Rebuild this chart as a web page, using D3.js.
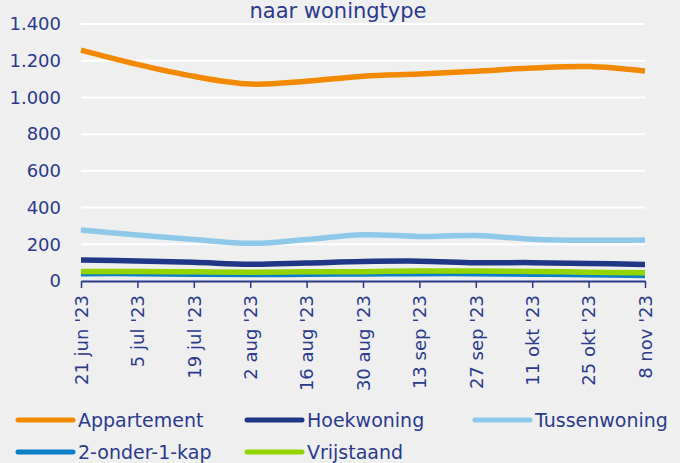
<!DOCTYPE html>
<html lang="nl">
<head>
  <meta charset="UTF-8">
  <title>naar woningtype</title>
  <script src="https://d3js.org/d3.v7.min.js"></script>
  <style>
    body {
      margin: 0;
      background: #efefef;
      font-family: "DejaVu Sans", sans-serif;
    }
    svg { display: block; }
  </style>
</head>
<body>
  <div id="chart"></div>

  <script>
    // data (biweekly points)
    const dates = ["21 jun '23", "5 jul '23", "19 jul '23", "2 aug '23", "16 aug '23", "30 aug '23",
                   "13 sep '23", "27 sep '23", "11 okt '23", "25 okt '23", "8 nov '23"];
    const appartement  = [1258, 1180, 1115, 1073, 1088, 1116, 1128, 1143, 1160, 1168, 1144];
    const hoekwoning   = [114, 109, 102, 91, 98, 106, 108, 100, 100, 96, 90];
    const tussenwoning = [278, 250, 226, 205, 226, 252, 243, 248, 228, 222, 224];
    const onderKap     = [40, 40, 37, 35, 37, 38, 40, 40, 37, 34, 30];
    const vrijstaand   = [52, 52, 50, 48, 50, 51, 54, 54, 52, 48, 45];
    const yTicks = [0, 200, 400, 600, 800, 1000, 1200, 1400];

    const series = [
      {name: "Appartement",   values: appartement,  color: "#f28a00"},
      {name: "Hoekwoning",    values: hoekwoning,   color: "#1f3784"},
      {name: "Tussenwoning",  values: tussenwoning, color: "#8fc9ea"},
      {name: "2-onder-1-kap", values: onderKap,     color: "#0b7fc7"},
      {name: "Vrijstaand",    values: vrijstaand,   color: "#93d500"}
    ];

    const textColor = "#2b3a8c";
    const W = 680, H = 463;
    const margin = {top: 24, right: 35, bottom: 182, left: 81},
          width = W - margin.left - margin.right,
          height = H - margin.top - margin.bottom;

    const nl = d3.formatLocale({decimal: ",", thousands: ".", grouping: [3], currency: ["€", ""]});
    const fmt = nl.format(",");

    const root = d3.select("#chart")
                   .append("svg")
                   .attr("width", W)
                   .attr("height", H);

    root.append("rect").attr("width", W).attr("height", H).attr("fill", "#efefef");

    const svg = root.append("g")
                    .attr("transform", `translate(${margin.left},${margin.top})`);

    const x = d3.scalePoint()
                .domain(dates)
                .range([0, width]);

    const y = d3.scaleLinear()
                .domain([0, 1400])
                .range([height, 0]);

    // title
    root.append("text")
        .attr("x", 338)
        .attr("y", 18)
        .attr("text-anchor", "middle")
        .style("font-size", "21px")
        .style("fill", textColor)
        .text("naar woningtype");

    // gridlines
    svg.append("g")
       .selectAll("line")
       .data(yTicks.filter(d => d > 0))
       .enter()
       .append("line")
       .attr("x1", 0)
       .attr("x2", width)
       .attr("y1", d => y(d))
       .attr("y2", d => y(d))
       .attr("stroke", "#ffffff")
       .attr("stroke-width", 2);

    // y axis labels
    svg.append("g")
       .call(d3.axisLeft(y).tickValues(yTicks).tickFormat(fmt).tickSize(0).tickPadding(20))
       .call(g => g.select(".domain").remove())
       .selectAll("text")
       .style("font-family", "DejaVu Sans, sans-serif")
       .style("font-size", "18px")
       .style("fill", textColor);

    // lines
    const line = d3.line()
                   .x((d, i) => x(dates[i]))
                   .y(d => y(d))
                   .curve(d3.curveCatmullRom.alpha(0.5));

    svg.selectAll(".serie")
       .data(series)
       .enter()
       .append("path")
       .attr("class", "serie")
       .attr("d", d => line(d.values))
       .attr("fill", "none")
       .attr("stroke", d => d.color)
       .attr("stroke-width", 5.5)
       .attr("stroke-linejoin", "round");

    // x axis
    const xAxis = svg.append("g")
       .attr("transform", `translate(0, ${height})`)
       .call(d3.axisBottom(x).tickSize(7).tickSizeOuter(0));

    xAxis.select(".domain")
         .attr("stroke", textColor)
         .attr("stroke-width", 2);
    xAxis.selectAll(".tick line")
         .attr("stroke", textColor)
         .attr("stroke-width", 1.5);
    xAxis.selectAll("text")
         .attr("transform", "rotate(-90)")
         .attr("text-anchor", "end")
         .attr("x", -14)
         .attr("y", 0)
         .attr("dy", "0.35em")
         .style("font-family", "DejaVu Sans, sans-serif")
         .style("font-size", "18px")
         .style("fill", textColor);

    // legend
    const legendPos = [[18, 420], [247, 420], [475, 420], [18, 452], [247, 452]];
    const legend = root.append("g")
                       .selectAll("g")
                       .data(series)
                       .enter()
                       .append("g")
                       .attr("transform", (d, i) => `translate(${legendPos[i][0]},${legendPos[i][1]})`);

    legend.append("line")
          .attr("x1", 0)
          .attr("x2", 55)
          .attr("stroke", d => d.color)
          .attr("stroke-width", 5)
          .attr("stroke-linecap", "round");

    legend.append("text")
          .attr("x", 60)
          .attr("dy", "0.35em")
          .style("font-size", "19px")
          .style("fill", textColor)
          .text(d => d.name);
  </script>
</body>
</html>
